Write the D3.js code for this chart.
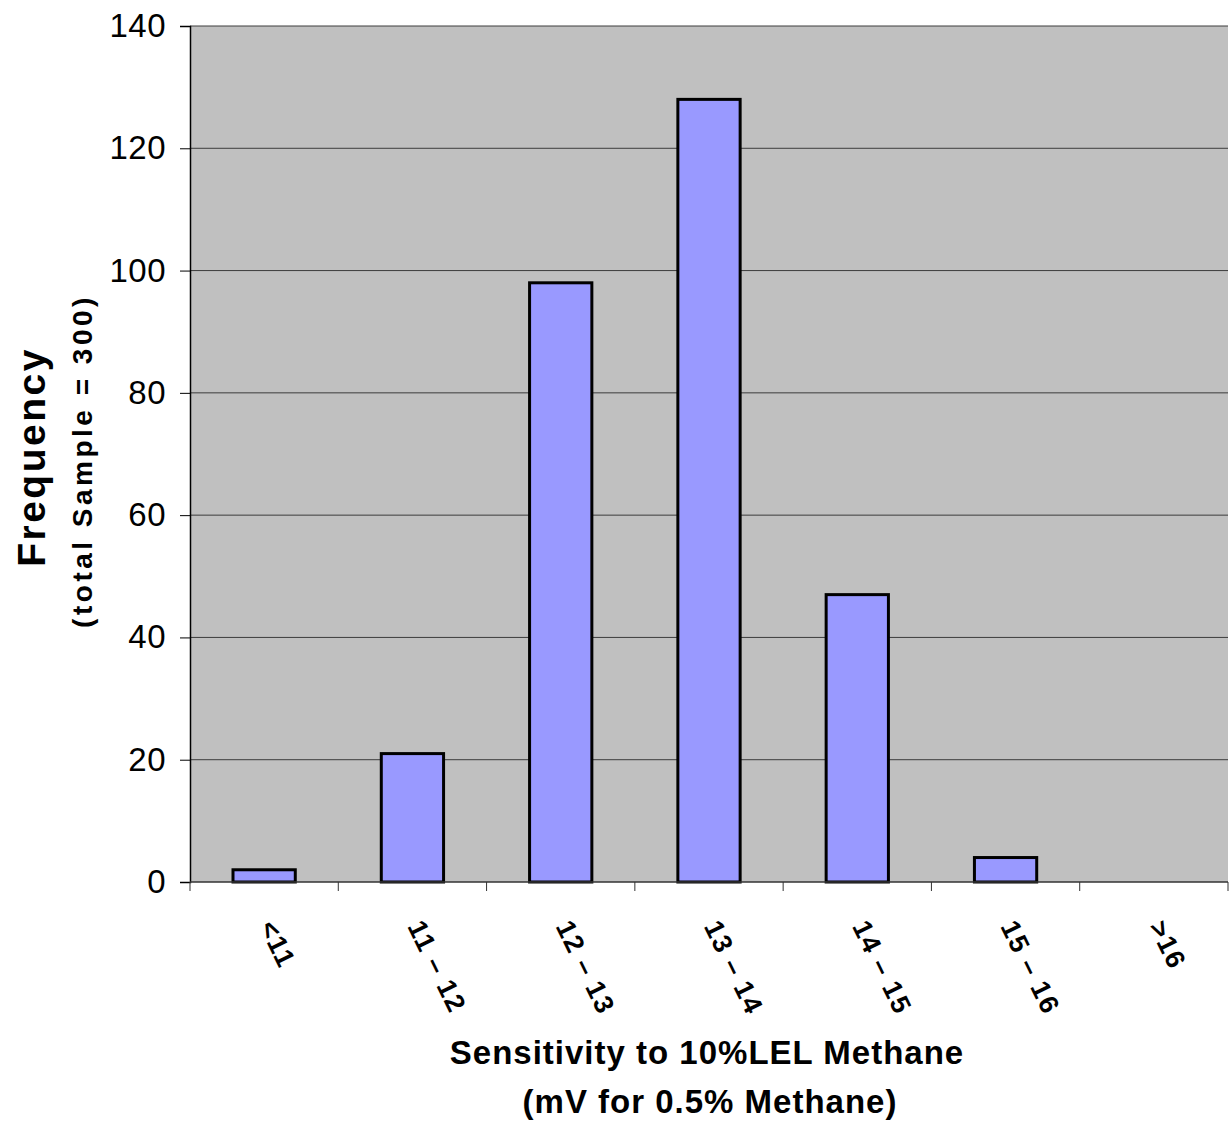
<!DOCTYPE html>
<html>
  <head>
    <meta charset="utf-8">
    <title>Sensitivity histogram</title>
    <script src="https://d3js.org/d3.v7.min.js"></script>
    <style>
      body { margin: 0; background: #fff; }
      text { font-family: "Liberation Sans", Arial, sans-serif; }
    </style>
  </head>
  <body>
    <div class="chart"></div>
    <script>
      // data
      var categories = ["<11", "11 \u2013 12", "12 \u2013 13", "13 \u2013 14", "14 \u2013 15", "15 \u2013 16", ">16"];
      var frequency = [2, 21, 98, 128, 47, 4, 0];
      var yTicks = [0, 20, 40, 60, 80, 100, 120, 140];

      var W = 1229, H = 1122;
      var pLeft = 190, pRight = 1228, pTop = 26, pBottom = 882;

      var svg = d3.select("div.chart").append("svg")
        .attr("width", W)
        .attr("height", H);

      var x = d3.scaleBand()
        .domain(categories)
        .range([pLeft, pRight])
        .paddingInner(0.58)
        .paddingOuter(0.29);

      var y = d3.scaleLinear()
        .domain([0, 140])
        .range([pBottom, pTop]);

      // plot background
      svg.append("rect")
        .attr("x", pLeft).attr("y", pTop)
        .attr("width", pRight - pLeft).attr("height", pBottom - pTop)
        .attr("fill", "#c0c0c0");

      // gridlines
      svg.selectAll("line.grid")
        .data(yTicks.filter(function (d) { return d > 0; }))
        .enter().append("line")
        .attr("class", "grid")
        .attr("x1", pLeft).attr("x2", pRight)
        .attr("y1", function (d) { return y(d); })
        .attr("y2", function (d) { return y(d); })
        .attr("stroke", "#3c3c3c")
        .attr("stroke-width", 1);

      // bars
      svg.selectAll("rect.bar")
        .data(frequency)
        .enter().append("rect")
        .attr("class", "bar")
        .attr("x", function (d, i) { return x(categories[i]); })
        .attr("width", x.bandwidth())
        .attr("y", function (d) { return y(d); })
        .attr("height", function (d) { return pBottom - y(d); })
        .attr("fill", d => d > 0 ? "#9999ff" : "none")
        .attr("stroke", d => d > 0 ? "#000" : "none")
        .attr("stroke-width", 3);

      // y axis
      var yAxis = svg.append("g")
        .attr("transform", "translate(" + pLeft + ",0)")
        .call(d3.axisLeft(y).tickValues(yTicks).tickSize(10).tickPadding(14));
      yAxis.select(".domain").attr("stroke", "#000").attr("stroke-width", 1.5);
      yAxis.selectAll(".tick line").attr("stroke", "#000");
      yAxis.selectAll("text")
        .attr("font-size", 33)
        .attr("fill", "#000")
        .style("letter-spacing", "0.5px")
        .style("font-family", "Liberation Sans, Arial, sans-serif");

      // x axis: ticks at category boundaries
      var step = x.step();
      var bounds = d3.range(categories.length + 1).map(function (i) { return pLeft + i * step; });
      svg.append("line")
        .attr("x1", pLeft).attr("x2", pRight)
        .attr("y1", pBottom).attr("y2", pBottom)
        .attr("stroke", "#333").attr("stroke-width", 1.5);
      svg.selectAll("line.xtick")
        .data(bounds)
        .enter().append("line")
        .attr("x1", d => d).attr("x2", d => d)
        .attr("y1", pBottom).attr("y2", pBottom + 9)
        .attr("stroke", "#333").attr("stroke-width", 1);

      svg.selectAll("text.xlab")
        .data(categories)
        .enter().append("text")
        .attr("class", "xlab")
        .attr("transform", function (d) {
          return "translate(" + (x(d) + x.bandwidth() / 2 + 3) + "," + (pBottom + 40) + ") rotate(64)";
        })
        .attr("text-anchor", "start")
        .attr("dy", "0.35em")
        .attr("font-size", 27)
        .attr("font-weight", "bold")
        .style("letter-spacing", "1.5px")
        .text(d => d);

      // axis titles
      svg.append("text")
        .attr("transform", "translate(45,457) rotate(-90)")
        .attr("text-anchor", "middle")
        .attr("font-size", 39)
        .attr("font-weight", "bold")
        .style("letter-spacing", "2.5px")
        .text("Frequency");
      svg.append("text")
        .attr("transform", "translate(92,461) rotate(-90)")
        .attr("text-anchor", "middle")
        .attr("font-size", 28)
        .attr("font-weight", "bold")
        .style("letter-spacing", "3.5px")
        .text("(total Sample = 300)");

      svg.append("text")
        .attr("x", 707).attr("y", 1064)
        .attr("text-anchor", "middle")
        .attr("font-size", 33)
        .attr("font-weight", "bold")
        .style("letter-spacing", "1px")
        .text("Sensitivity to 10%LEL Methane");
      svg.append("text")
        .attr("x", 710).attr("y", 1113)
        .attr("text-anchor", "middle")
        .attr("font-size", 33)
        .attr("font-weight", "bold")
        .style("letter-spacing", "1px")
        .text("(mV for 0.5% Methane)");
    </script>
  </body>
</html>
